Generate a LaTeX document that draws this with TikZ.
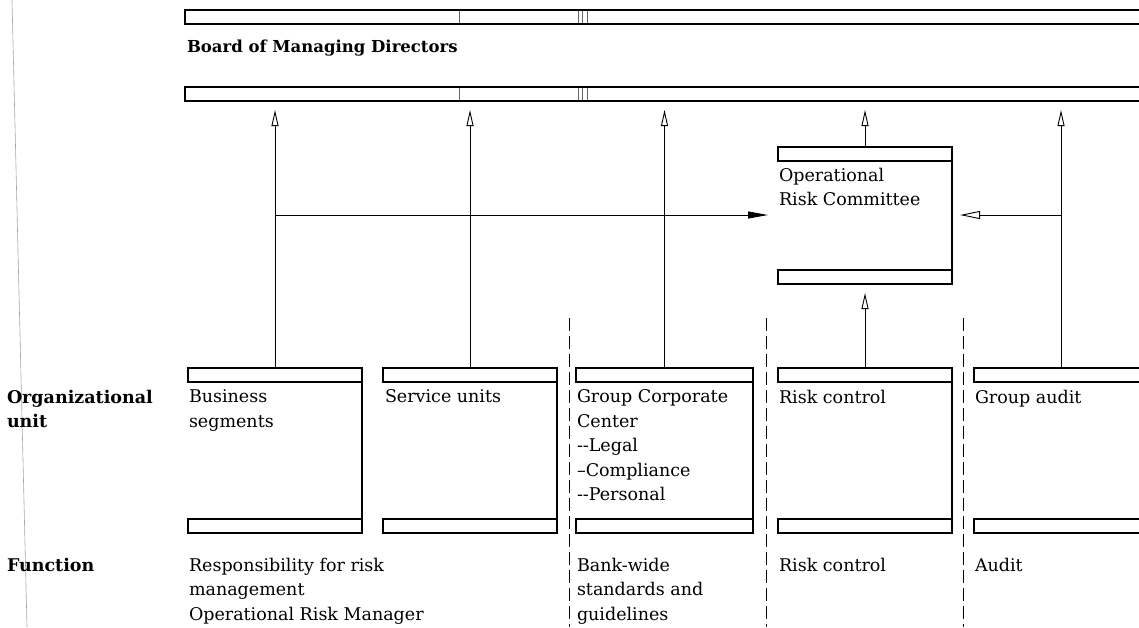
\documentclass[tikz,border=0pt]{standalone}
\usepackage{fontspec}
\setmainfont{DejaVu Serif}
\usetikzlibrary{arrows.meta}
\begin{document}
\begin{tikzpicture}[x=1pt,y=-1pt,
  band/.style={draw, line width=1.3pt, minimum height=14pt, inner sep=0pt, outer sep=0pt, anchor=north west},
  edge/.style={line width=1.1pt},
  lbl/.style={anchor=north west, inner sep=0pt, outer sep=0pt, align=left, font=\fontsize{17.5}{24.5}\selectfont},
  head/.style={lbl, font=\bfseries\fontsize{17.5}{24.5}\selectfont},
  conn/.style={line width=0.9pt},
  openup/.style={conn, -{Triangle[open, length=16pt, width=7pt, line width=0.9pt]}},
  openin/.style={conn, -{Triangle[open, length=20pt, width=8pt, line width=0.9pt]}},
  solidin/.style={conn, -{Triangle[length=20pt, width=7pt]}},
  sep/.style={line width=0.8pt, dash pattern=on 13pt off 5pt},
  tick/.style={line width=0.5pt, black!60},
]
\useasboundingbox (0,0) rectangle (1139,627);
\clip (0,0) rectangle (1139,627);

% margin rule
\draw[gray!70, line width=0.6pt] (12,0) -- (27,627);

% board of managing directors
\node[band, minimum width=1000pt] (brd-t) at (185,10) {};
\node[band, minimum width=1000pt] (brd-b) at (185,87) {};
\foreach \tx in {459,578,582,587}{
  \draw[tick] (\tx,11) -- (\tx,23);
  \draw[tick] (\tx,88) -- (\tx,100);
}
\node[head, font=\bfseries\fontsize{16.5}{24.5}\selectfont] (brd-l) at (187,40) {Board of Managing Directors};

% operational risk committee
\node[band, minimum width=174pt] (orc-t) at (778,147) {};
\node[band, minimum width=174pt] (orc-b) at (778,270) {};
\draw[edge] (orc-t.north east) -- (orc-b.south east);
\node[lbl] (orc-l) at (779,168) {Operational\\Risk Committee};

% organizational units
\node[band, minimum width=174pt] (bs-t) at (188,368) {};
\node[band, minimum width=174pt] (bs-b) at (188,519) {};
\draw[edge] (bs-t.north east) -- (bs-b.south east);

\node[band, minimum width=174pt] (sv-t) at (383,368) {};
\node[band, minimum width=174pt] (sv-b) at (383,519) {};
\draw[edge] (sv-t.north east) -- (sv-b.south east);

\node[band, minimum width=177pt] (gc-t) at (576,368) {};
\node[band, minimum width=177pt] (gc-b) at (576,519) {};
\draw[edge] (gc-t.north east) -- (gc-b.south east);

\node[band, minimum width=174pt] (rc-t) at (778,368) {};
\node[band, minimum width=174pt] (rc-b) at (778,519) {};
\draw[edge] (rc-t.north east) -- (rc-b.south east);

\node[band, minimum width=174pt] (ga-t) at (974,368) {};
\node[band, minimum width=174pt] (ga-b) at (974,519) {};
\draw[edge] (ga-t.north east) -- (ga-b.south east);

% column separators
\draw[sep] (569,318) -- (569,627);
\draw[sep] (766,318) -- (766,627);
\draw[sep] (963,318) -- (963,627);

% row headings
\node[head] (row-unit) at (7,390) {Organizational\\unit};
\node[head] (row-fn) at (7,558) {Function};

% unit names
\node[lbl] (bs-l) at (189,390) {Business\\segments};
\node[lbl] (sv-l) at (385,390) {Service units};
\node[lbl] (gc-l) at (577,390) {Group Corporate\\Center\\-{}-Legal\\--Compliance\\-{}-Personal};
\node[lbl] (rc-l) at (779,390) {Risk control};
\node[lbl] (ga-l) at (975,390) {Group audit};

% functions
\node[lbl] (bs-f) at (189,558) {Responsibility for risk\\management\\Operational Risk Manager};
\node[lbl] (gc-f) at (577,558) {Bank-wide\\standards and\\guidelines};
\node[lbl] (rc-f) at (779,558) {Risk control};
\node[lbl] (ga-f) at (975,558) {Audit};

% reporting lines
\coordinate (tip-y) at (0,110);
\coordinate (hy) at (0,215);
\draw[openup] (bs-t.north) -- (bs-t.north |- tip-y);
\draw[openup] (sv-t.north) -- (sv-t.north |- tip-y);
\draw[openup] (gc-t.north) -- (gc-t.north |- tip-y);
\draw[openup] (ga-t.north) -- (ga-t.north |- tip-y);
\draw[openup] (orc-t.north) -- (orc-t.north |- tip-y);
\draw[openup, shorten >=9pt] (rc-t.north) -- (orc-b.south);
\draw[solidin, shorten >=10pt] (bs-t.north |- hy) -- (orc-b.west |- hy);
\draw[openin, shorten >=8pt] (ga-t.north |- hy) -- (orc-b.east |- hy);
\end{tikzpicture}
\end{document}
